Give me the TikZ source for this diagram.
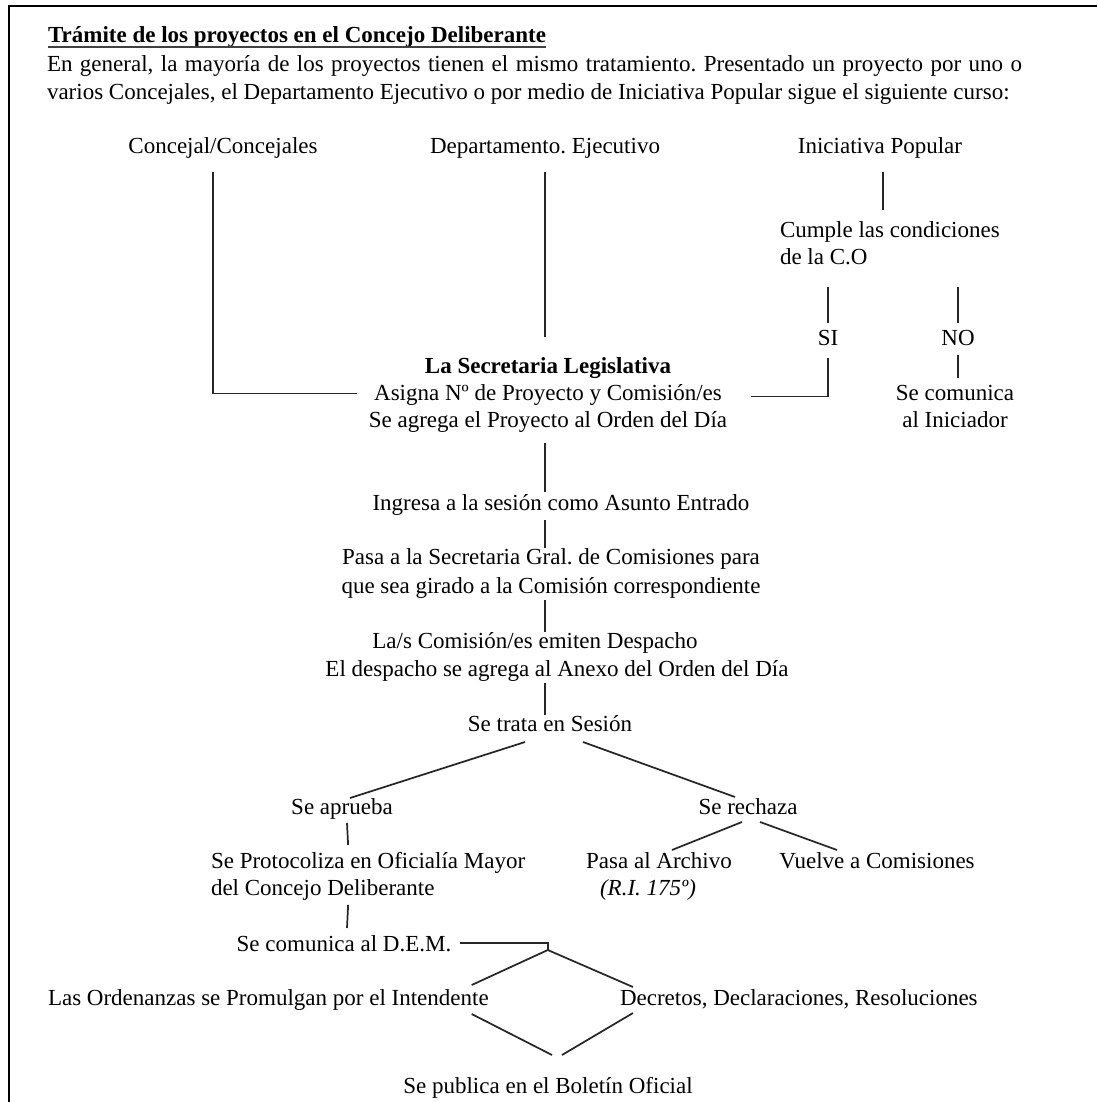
\documentclass[tikz,border=0pt]{standalone}
\usepackage{fontspec}
\setmainfont{Liberation Serif}
\usetikzlibrary{calc}
\newcommand\fsz{\fontsize{17.25pt}{20.25pt}\selectfont\frenchspacing}
\begin{document}
\frenchspacing
\begin{tikzpicture}[x=0.75pt,y=-0.75pt,
  every node/.style={inner sep=0pt,outer sep=0pt,font=\fsz},
  lbl/.style={anchor=base,text height=12pt,text depth=3.75pt},
  mlbl/.style={anchor=base},
  ln/.style={line width=1.3pt,black!85},
  frame/.style={line width=1.6pt,black}]
\useasboundingbox (0,0) rectangle (1097,1102);
% frame
\draw[frame] (8,6) -- (1097,6);
\draw[frame] (9,6) -- (9,1102);
% heading
\node[anchor=base west,font=\fsz\bfseries] (title) at (48,43) {Trámite de los proyectos en el Concejo Deliberante};
\draw[line width=1.5pt,black!75] ($(title.base west)+(0,4)$) -- ($(title.base east)+(0,4)$);
\node[anchor=base west] (p1) at (47,72) {\makebox[731.25pt][s]{En general, la mayoría de los proyectos tienen el mismo tratamiento. Presentado un proyecto por uno o}};
\node[anchor=base west] (p2) at (47,100) {varios Concejales, el Departamento Ejecutivo o por medio de Iniciativa Popular sigue el siguiente curso:};
% nodes (multi-line nodes: base = baseline of last line)
\node[lbl] (conc) at (223,153) {Concejal/Concejales};
\node[lbl] (dep) at (545,153) {Departamento. Ejecutivo};
\node[lbl] (ini) at (880,153) {Iniciativa Popular};
\node[mlbl,anchor=base west,align=left] (cum) at (780,264) {Cumple las condiciones\\de la C.O};
\node[lbl] (si) at (828,345) {SI};
\node[lbl] (no) at (958,345) {NO};
\node[mlbl,align=center] (sec) at (548,427) {{\bfseries La Secretaria Legislativa}\\Asigna Nº de Proyecto y Comisión/es\\Se agrega el Proyecto al Orden del Día};
\node[mlbl,align=center] (com) at (955,427) {Se comunica\\al Iniciador};
\node[lbl] (ing) at (561,510) {Ingresa a la sesión como Asunto Entrado};
\node[mlbl,align=center] (pas) at (551,593) {Pasa a la Secretaria Gral. de Comisiones para\\[1.5pt]que sea girado a la Comisión correspondiente};
\node[lbl] (des1) at (535,648) {La/s Comisión/es emiten Despacho};
\node[lbl] (des2) at (557,676) {El despacho se agrega al Anexo del Orden del Día};
\node[lbl] (tra) at (550,731) {Se trata en Sesión};
\node[lbl] (apr) at (342,814) {Se aprueba};
\node[lbl] (rec) at (748,814) {Se rechaza};
\node[mlbl,anchor=base west,align=left] (pro) at (211,895) {Se Protocoliza en Oficialía Mayor\\del Concejo Deliberante};
\node[lbl] (arc) at (659,868) {Pasa al Archivo};
\node[lbl,font=\fsz\itshape] (ri) at (648,895) {(R.I. 175º)};
\node[lbl] (vue) at (877,868) {Vuelve a Comisiones};
\node[lbl] (dem) at (344,951) {Se comunica al D.E.M.};
\node[lbl,anchor=base west] (ord) at (48,1005) {Las Ordenanzas se Promulgan por el Intendente};
\node[lbl,anchor=base west] (dec) at (620,1005) {Decretos, Declaraciones, Resoluciones};
\node[lbl] (pub) at (548,1093) {Se publica en el Boletín Oficial};
% connectors
\draw[ln] ($(conc.south)+(-10,14)$) |- ($(sec.west)+(-12,-1)$);
\draw[ln] ($(dep.south)+(0,14)$) -- ($(sec.north)+(-3,-20)$);
\draw[ln] ($(ini.south)+(3,14)$) -- ++(0,38);
\draw[ln] ($(si.north)+(0,-6)$) -- ++(0,-36);
\draw[ln] ($(si.south)+(0,8)$) |- ($(sec.east)+(24,2)$);
\draw[ln] ($(no.north)+(0,-6)$) -- ++(0,-36);
\draw[ln] ($(no.south)+(0,5)$) -- ($(com.north)+(3,-7)$);
\draw[ln] ($(sec.south)+(-3,11)$) -- ($(ing.north)+(-16,-2)$);
\draw[ln] ($(ing.south)+(-16,5)$) -- ($(pas.north)+(-6,0)$);
\draw[ln] ($(pas.south)+(-6,2)$) -- ($(des1.north)+(10,0)$);
\draw[ln] ($(des2.south)+(-12,2)$) -- ($(tra.north)+(-5,0)$);
\draw[ln] ($(tra.south)+(-25,6)$) -- ($(apr.north)+(8,0)$);
\draw[ln] ($(tra.south)+(33,6)$) -- ($(rec.north)+(-13,-1)$);
\draw[ln] ($(apr.south)+(5,4)$) -- ($(pro.north)+(-20,-7)$);
\draw[ln] ($(rec.south)+(-6,3)$) -- ($(arc.north)+(13,-2)$);
\draw[ln] ($(rec.south)+(12,3)$) -- ($(vue.north)+(-40,-2)$);
\draw[ln] ($(pro.south)+(-20,5)$) -- ($(dem.north)+(3,-7)$);
\draw[ln] ($(dem.east)+(8.5,-2.5)$) -- ++(88,0) -- ++(0,7) coordinate (apex);
\draw[ln] (apex) -- ($(ord.north east)+(-17,-4)$);
\draw[ln] (apex) -- ($(dec.north west)+(13,-2)$);
\draw[ln] ($(ord.south east)+(-17,4)$) -- ($(pub.north)+(4,-22)$);
\draw[ln] ($(dec.south west)+(13,3)$) -- ($(pub.north)+(14,-22)$);
\end{tikzpicture}
\end{document}
